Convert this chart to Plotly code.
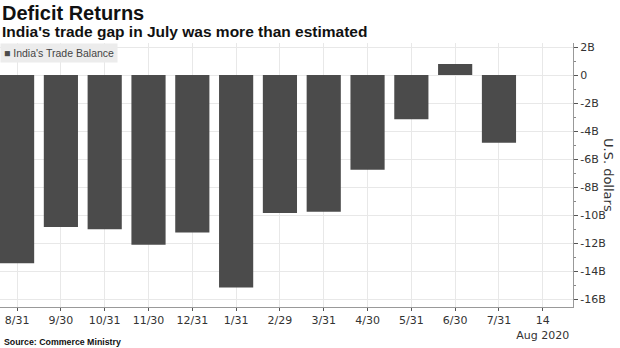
import plotly.graph_objects as go

# Data (billions of US dollars)
months = ["8/31", "9/30", "10/31", "11/30", "12/31", "1/31", "2/29", "3/31",
          "4/30", "5/31", "6/30", "7/31"]
trade_balance = [-13.45, -10.86, -11.01, -12.12, -11.25, -15.17, -9.85, -9.76,
                 -6.76, -3.15, 0.79, -4.83]
tick_labels = months + ["14<br>Aug 2020"]
y_ticks = [2, 0, -2, -4, -6, -8, -10, -12, -14, -16]
y_tick_labels = ["2B", "0", "-2B", "-4B", "-6B", "-8B", "-10B", "-12B", "-14B", "-16B"]
series_name = "India's Trade Balance"

W, H = 620, 348
ml, mr, mt, mb = 0, 47, 43, 41
ph = H - mt - mb

def py(pix):
    return (H - mb - pix) / ph

fig = go.Figure()
fig.add_trace(go.Bar(
    x=list(range(len(months))),
    y=trade_balance,
    width=0.78,
    marker=dict(color="#4b4b4b", line=dict(width=0)),
    name=series_name,
    showlegend=False,
))

font_main = "Liberation Sans, Arial, sans-serif"
font_tick = "DejaVu Sans, sans-serif"

fig.update_layout(
    width=W, height=H,
    margin=dict(l=ml, r=mr, t=mt, b=mb),
    paper_bgcolor="white",
    plot_bgcolor="white",
    showlegend=False,
    bargap=0.2,
    xaxis=dict(
        range=[-0.39, 12.69],
        tickmode="array",
        tickvals=list(range(len(tick_labels))),
        ticktext=tick_labels,
        showgrid=True, gridcolor="#e8e8e8", gridwidth=1,
        ticks="outside", ticklen=3, tickcolor="#555",
        showline=True, linecolor="#999", linewidth=1,
        tickfont=dict(family=font_tick, size=11, color="#333"),
        zeroline=False,
        fixedrange=True,
    ),
    yaxis=dict(
        side="right",
        range=[-16.57, 2.29],
        tickmode="array",
        tickvals=y_ticks,
        ticktext=y_tick_labels,
        showgrid=True, gridcolor="#e8e8e8", gridwidth=1,
        ticks="outside", ticklen=4, tickcolor="#555",
        minor=dict(dtick=1, ticks="outside", ticklen=2, tickcolor="#888", showgrid=False),
        showline=True, linecolor="#999", linewidth=1,
        tickfont=dict(family=font_tick, size=11, color="#333"),
        zeroline=False,
        fixedrange=True,
    ),
    annotations=[
        dict(text="<b>Deficit Returns</b>", x=0, y=py(13), xref="paper", yref="paper",
             xanchor="left", yanchor="middle", showarrow=False,
             font=dict(family=font_main, size=20, color="#111")),
        dict(text="<b>India's trade gap in July was more than estimated</b>", x=0, y=py(31),
             xref="paper", yref="paper", xanchor="left", yanchor="middle", showarrow=False,
             font=dict(family=font_main, size=15.5, color="#111")),
        dict(text="<b>Source: Commerce Ministry</b>", x=0.004, y=py(342),
             xref="paper", yref="paper", xanchor="left", yanchor="middle", showarrow=False,
             font=dict(family=font_main, size=8.8, color="#111")),
        dict(text="U.S. dollars", x=(609 - ml) / (W - ml - mr), y=py(175),
             xref="paper", yref="paper", xanchor="center", yanchor="middle",
             textangle=90, showarrow=False,
             font=dict(family=font_tick, size=13, color="#333")),
        dict(text="<span style='color:#4b4b4b'>■</span> " + series_name,
             x=0, y=py(43), xref="paper", yref="paper",
             xanchor="left", yanchor="top", showarrow=False,
             bgcolor="#ececec", borderpad=3,
             font=dict(family=font_main, size=10.5, color="#444")),
    ],
)

fig.write_html("out.html")
